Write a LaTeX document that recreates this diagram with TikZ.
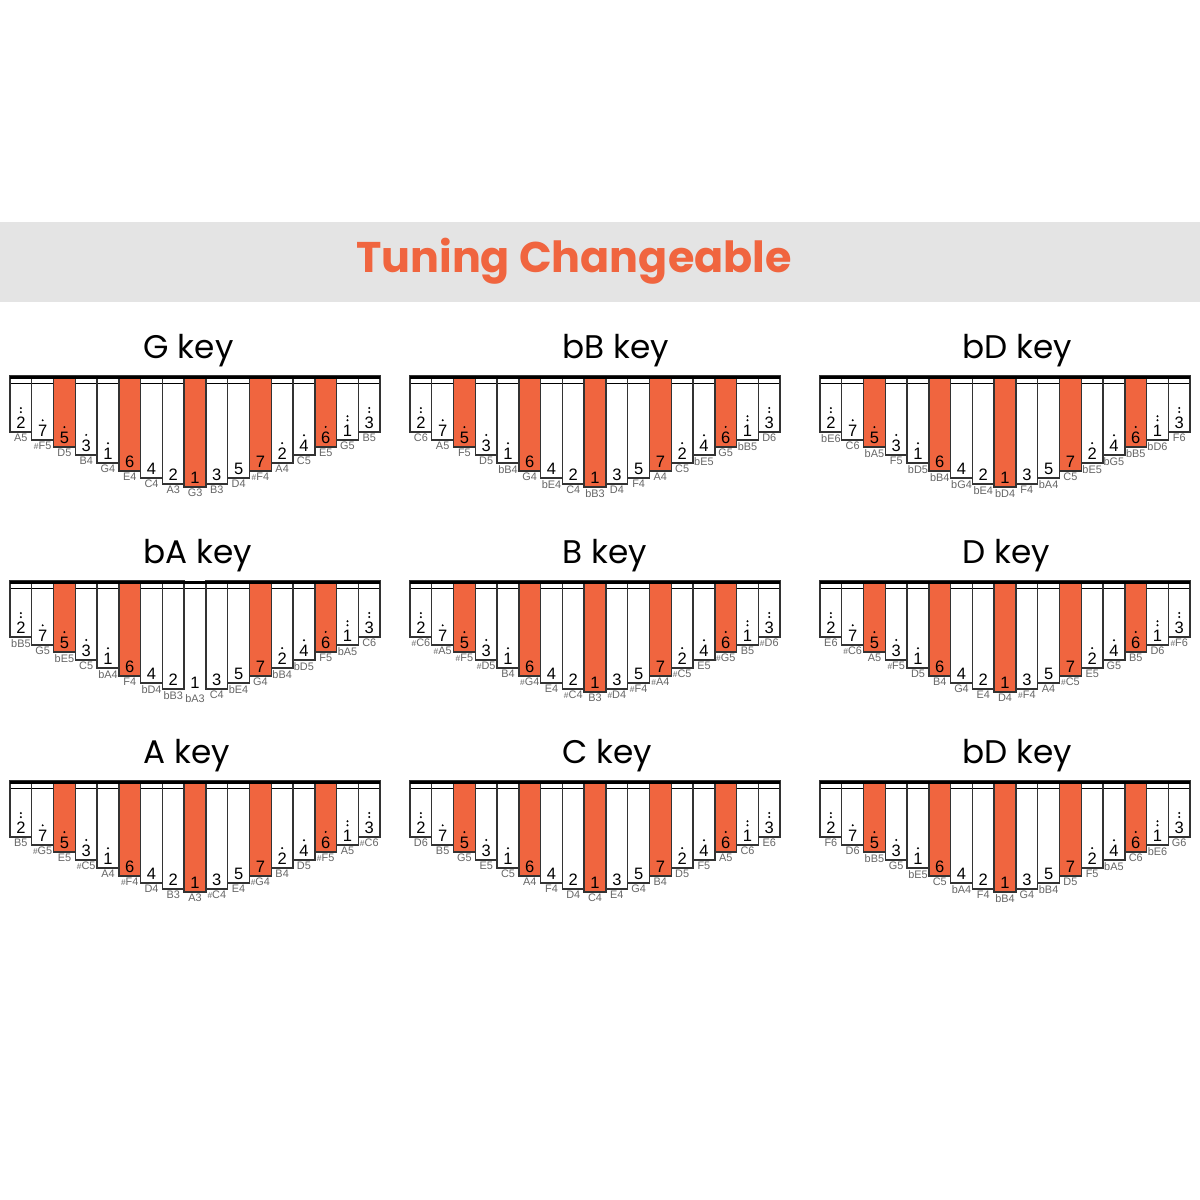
\documentclass[tikz,border=0pt]{standalone}
\usepackage{fontspec}
\setmainfont{Liberation Sans}
\newfontfamily\geofont{Poppins}
\usetikzlibrary{positioning}

\definecolor{keyorange}{HTML}{F0653F}
\definecolor{bandgray}{HTML}{E4E4E4}
\definecolor{notegray}{HTML}{666666}

\newcommand\sh{{\fontsize{2.4pt}{2.8pt}\selectfont\#}}

% one kalimba: #1 name, #2 left x, #3 y of the bar, #4 notes, #5 style of the middle tine
\newcommand\kalimba[5]{%
  \draw[thinbar] (#2,#3+7.5) -- ++(370,0);
  \foreach \n [count=\i, remember=\i as \j (initially 0)] in {#4} {
    \pgfmathtruncatemacro\dep{{56,64,71,79,87,95,102,108,111,108,102,95,87,79,71,64,56}[\i-1]}
    \pgfmathtruncatemacro\dig{{2,7,5,3,1,6,4,2,1,3,5,7,2,4,6,1,3}[\i-1]}
    \pgfmathtruncatemacro\dts{{2,1,1,1,1,0,0,0,0,0,0,0,1,1,1,2,2}[\i-1]}
    \pgfmathtruncatemacro\hot{mod(\i,3)==0 ? (\i==9 ? 2 : 1) : 0}
    \ifcase\hot \def\kstyle{tine}\or \def\kstyle{hottine}\or \def\kstyle{#5}\fi
    \ifnum\i=1
      \node[\kstyle, minimum height=\dep*0.1mm, anchor=north west] (#1_\i) at (#2,#3) {};
    \else
      \node[\kstyle, minimum height=\dep*0.1mm, right=0mm of #1_\j.north east, anchor=north west] (#1_\i) {};
    \fi
    \node[digit, above=0.3mm of #1_\i.south] (#1d\i) {\dig};
    \node[note, below=0.15mm of #1_\i.south] {\n};
    \ifnum\dts>0
      \foreach \k in {1,...,\dts} \fill (#1d\i.north) ++(0,{-4*\k}) circle (0.11mm);
    \fi
  }
  \draw[bar] (#2,#3+1.3) -- ++(370,0);
}

\begin{document}
\begin{tikzpicture}[x=0.01cm, y=-0.01cm,
    tine/.style={rectangle, draw=black!80, line width=0.4pt, inner sep=0pt, outer sep=0pt, minimum width=2.176mm},
    hottine/.style={tine, fill=keyorange},
    gaptine/.style={tine, draw=none},
    digit/.style={inner sep=0pt, font=\fontsize{4.7pt}{5pt}\selectfont},
    note/.style={inner sep=0pt, text=notegray, font=\fontsize{3.1pt}{3.5pt}\selectfont},
    bar/.style={line width=0.3mm},
    thinbar/.style={line width=0.35pt},
    keytitle/.style={anchor=base west, inner sep=0pt, font=\geofont\fontsize{9.3pt}{10pt}\selectfont},
    headline/.style={anchor=base, inner sep=0pt, text=keyorange, font=\geofont\bfseries\fontsize{12.2pt}{15pt}\selectfont}]
  \useasboundingbox (0,0) rectangle (1200,1200);
  \fill[white] (0,0) rectangle (1200,1200);
  \fill[bandgray] (0,222) rectangle (1200,302);
  \node[headline] (head) at (574,272) {Tuning Changeable};

  % titles
  \node[keytitle] (t0) at (143,358) {G key};
  \node[keytitle] (t1) at (562,358) {bB key};
  \node[keytitle] (t2) at (962,358) {bD key};
  \node[keytitle] (t3) at (143,563) {bA key};
  \node[keytitle] (t4) at (562,563) {B key};
  \node[keytitle] (t5) at (962,563) {D key};
  \node[keytitle] (t6) at (143,763) {A key};
  \node[keytitle] (t7) at (562,763) {C key};
  \node[keytitle] (t8) at (962,763) {bD key};

  \kalimba{a0}{10}{376}{A5,\sh F5,D5,B4,G4,E4,C4,A3,G3,B3,D4,\sh F4,A4,C5,E5,G5,B5}{hottine}
  \kalimba{a1}{410}{376}{C6,A5,F5,D5,bB4,G4,bE4,C4,bB3,D4,F4,A4,C5,bE5,G5,bB5,D6}{hottine}
  \kalimba{a2}{820}{376}{bE6,C6,bA5,F5,bD5,bB4,bG4,bE4,bD4,F4,bA4,C5,bE5,bG5,bB5,bD6,F6}{hottine}
  \kalimba{a3}{10}{581}{bB5,G5,bE5,C5,bA4,F4,bD4,bB3,bA3,C4,bE4,G4,bB4,bD5,F5,bA5,C6}{gaptine}
  \kalimba{a4}{410}{581}{\sh C6,\sh A5,\sh F5,\sh D5,B4,\sh G4,E4,\sh C4,B3,\sh D4,\sh F4,\sh A4,\sh C5,E5,\sh G5,B5,\sh D6}{hottine}
  \kalimba{a5}{820}{581}{E6,\sh C6,A5,\sh F5,D5,B4,G4,E4,D4,\sh F4,A4,\sh C5,E5,G5,B5,D6,\sh F6}{hottine}
  \kalimba{a6}{10}{781}{B5,\sh G5,E5,\sh C5,A4,\sh F4,D4,B3,A3,\sh C4,E4,\sh G4,B4,D5,\sh F5,A5,\sh C6}{hottine}
  \kalimba{a7}{410}{781}{D6,B5,G5,E5,C5,A4,F4,D4,C4,E4,G4,B4,D5,F5,A5,C6,E6}{hottine}
  \kalimba{a8}{820}{781}{F6,D6,bB5,G5,bE5,C5,bA4,F4,bB4,G4,bB4,D5,F5,bA5,C6,bE6,G6}{hottine}
\end{tikzpicture}
\end{document}
